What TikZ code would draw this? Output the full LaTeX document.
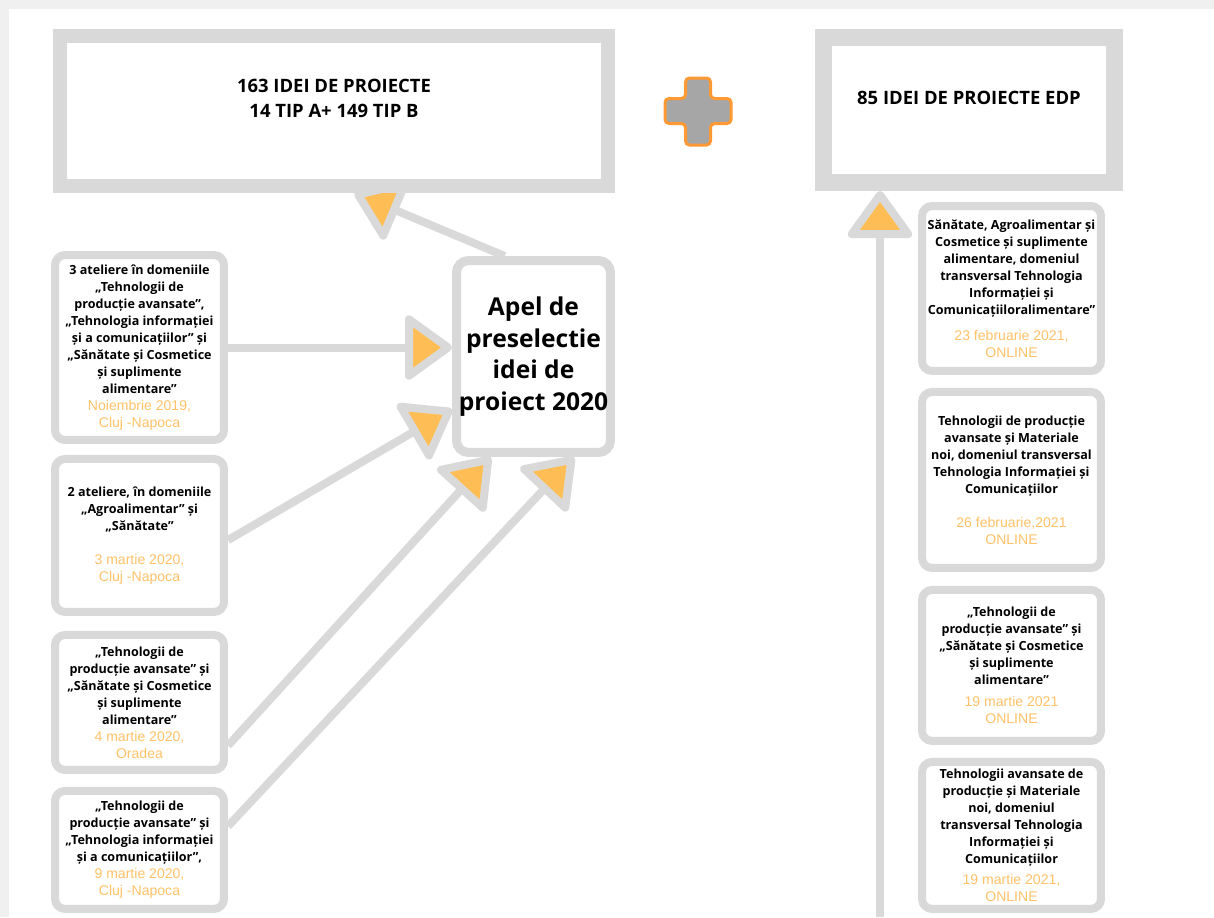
\documentclass[tikz,border=0pt]{standalone}
\usepackage{fontspec}
\setmainfont{Open Sans}
\newfontfamily\datefont{Liberation Sans}
\usetikzlibrary{positioning, arrows.meta}
\definecolor{boxgray}{RGB}{217,217,217}
\definecolor{tiporange}{RGB}{255,190,85}
\definecolor{dateorange}{RGB}{255,194,105}
\definecolor{plusgray}{RGB}{166,166,166}
\definecolor{plusorange}{RGB}{255,153,51}
\definecolor{pagegray}{RGB}{240,240,240}
\pgfdeclarelayer{page}
\pgfdeclarelayer{links}
\pgfsetlayers{page,links,main}
\newcommand{\dline}[1]{{\normalfont\fontsize{8}{10}\datefont\color{dateorange}#1}}

\tikzset{
  total/.style={draw=boxgray, fill=white, align=center, inner sep=0pt,
    font=\fontsize{10.5}{14}\selectfont\bfseries},
  event/.style={draw=boxgray, fill=white, line width=0.16cm, rounded corners=0.2cm,
    align=center, inner sep=0pt, font=\fontsize{7.15}{9.7}\selectfont\bfseries},
  link/.style={draw=boxgray, line width=0.16cm,
    -{Triangle[length=1.0cm, width=1.4cm, fill=tiporange, round]}},
}

\begin{document}
\begin{tikzpicture}[x=0.02cm, y=-0.02cm]
\begin{pgfonlayer}{page}
  \fill[pagegray] (0,0) rectangle (1214,917);
  \fill[white] (9,9) rectangle (1214,917);
\end{pgfonlayer}
\useasboundingbox (0,0) rectangle (1214,917);

\node[total, line width=0.28cm, minimum width=10.96cm, minimum height=3cm, text depth=0.5cm] (ideas) at (334,111)
  {163 IDEI DE PROIECTE\\14 TIP A+ 149 TIP B};
\node[total, line width=0.34cm, minimum width=5.82cm, minimum height=2.9cm, text depth=0.48cm] (edp) at (969,110)
  {85 IDEI DE PROIECTE EDP};
\draw[plusorange, fill=plusgray, line width=0.06cm, rounded corners=0.08cm]
  (685.5,78) -- (710.5,78) -- (710.5,98.5) -- (731,98.5) -- (731,123.5) -- (710.5,123.5)
  -- (710.5,145) -- (685.5,145) -- (685.5,123.5) -- (665,123.5) -- (665,98.5) -- (685.5,98.5) -- cycle;

\node[event, line width=0.18cm, rounded corners=0.24cm, minimum width=3.08cm, minimum height=3.84cm,
  font=\fontsize{14}{18}\selectfont\bfseries] (apel) at (533.5,356.5)
  {Apel de\\preselectie\\idei de\\proiect 2020};

\node[event, minimum width=3.38cm, minimum height=3.7cm] (ws1) at (139.5,347.5)
  {3 ateliere în domeniile\\„Tehnologii de\\producție avansate”,\\„Tehnologia informației\\și a comunicațiilor” și\\„Sănătate și Cosmetice\\și suplimente\\alimentare”\\\dline{Noiembrie 2019,}\\\dline{Cluj -Napoca}};
\node[event, minimum width=3.38cm, minimum height=3.06cm, below=0.22cm of ws1] (ws2)
  {2 ateliere, în domeniile\\„Agroalimentar” și\\„Sănătate”\\\strut\\\dline{3 martie 2020,}\\\dline{Cluj -Napoca}};
\node[event, minimum width=3.38cm, minimum height=2.7cm, below=0.3cm of ws2] (ws3)
  {„Tehnologii de\\producție avansate” și\\„Sănătate și Cosmetice\\și suplimente\\alimentare”\\\dline{4 martie 2020,}\\\dline{Oradea}};
\node[event, minimum width=3.38cm, minimum height=2.36cm, below=0.26cm of ws3] (ws4)
  {„Tehnologii de\\producție avansate” și\\„Tehnologia informației\\și a comunicațiilor”,\\\dline{9 martie 2020,}\\\dline{Cluj -Napoca}};

\node[event, minimum width=3.58cm, minimum height=3.3cm] (on1) at (1011.5,288.5)
  {Sănătate, Agroalimentar și\\Cosmetice și suplimente\\alimentare, domeniul\\transversal Tehnologia\\Informației și\\Comunicațiiloralimentare”\\[5pt]\dline{23 februarie 2021,}\\\dline{ONLINE}};
\node[event, minimum width=3.58cm, minimum height=3.52cm, below=0.26cm of on1] (on2)
  {Tehnologii de producție\\avansate și Materiale\\noi, domeniul transversal\\Tehnologia Informației și\\Comunicațiilor\\\strut\\\dline{26 februarie,2021}\\\dline{ONLINE}};
\node[event, minimum width=3.58cm, minimum height=3.02cm, below=0.28cm of on2] (on3)
  {„Tehnologii de\\producție avansate” și\\„Sănătate și Cosmetice\\și suplimente\\alimentare”\\[3pt]\dline{19 martie 2021}\\\dline{ONLINE}};
\node[event, minimum width=3.58cm, minimum height=2.94cm, below=0.26cm of on3] (on4)
  {Tehnologii avansate de\\producție și Materiale\\noi, domeniul\\transversal Tehnologia\\Informației și\\Comunicațiilor\\[2pt]\dline{19 martie 2021,}\\\dline{ONLINE}};

\begin{pgfonlayer}{links}
  \draw[link] (apel.106) -- (ideas.-76);
  \draw[link] (ws1.east) -- (ws1.east -| apel.west);
  \draw[link] (ws2.-3) -- (apel.213);
  \draw[link] (ws3.-26) -- (apel.247);
  \draw[link] (ws4.15) -- (apel.292);
  \coordinate (base) at (880,917);
  \draw[link] (base) -- (base |- edp.south);
\end{pgfonlayer}
\end{tikzpicture}
\end{document}
